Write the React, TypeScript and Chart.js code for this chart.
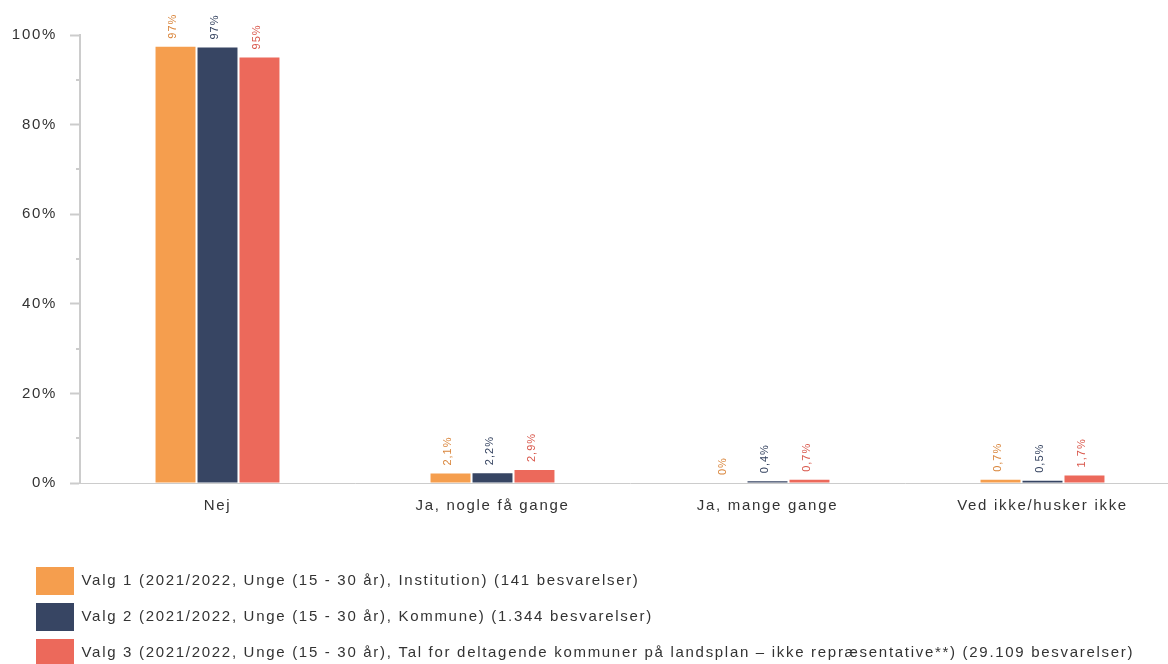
import React, { useEffect, useRef } from "react";
import { Chart, registerables } from "chart.js";

Chart.register(...registerables);

const CATEGORIES = ["Nej", "Ja, nogle få gange", "Ja, mange gange", "Ved ikke/husker ikke"];
const SERIES_NAMES = [
  "Valg 1 (2021/2022, Unge (15 - 30 år), Institution) (141 besvarelser)",
  "Valg 2 (2021/2022, Unge (15 - 30 år), Kommune) (1.344 besvarelser)",
  "Valg 3 (2021/2022, Unge (15 - 30 år), Tal for deltagende kommuner på landsplan – ikke repræsentative**) (29.109 besvarelser)",
];
const VALG1 = [97.4, 2.1, 0, 0.7];
const VALG2 = [97.2, 2.2, 0.4, 0.5];
const VALG3 = [95.0, 2.9, 0.7, 1.7];
const LABELS1 = ["97%", "2,1%", "0%", "0,7%"];
const LABELS2 = ["97%", "2,2%", "0,4%", "0,5%"];
const LABELS3 = ["95%", "2,9%", "0,7%", "1,7%"];
const Y_TICKS_MAJOR_STEP = 20;

const BAR_COLORS = ["#F59E4E", "#374563", "#EC695B"];
const LABEL_COLORS = ["#D9853B", "#34425F", "#D9574B"];
const FONT = '"Liberation Sans", Arial, sans-serif';
const SPACING = "1.7px";

export default function App() {
  const ref = useRef<HTMLCanvasElement | null>(null);

  useEffect(() => {
    if (!ref.current) return;
    const allLabels = [LABELS1, LABELS2, LABELS3];

    const spacingPlugin = {
      id: "spacing",
      beforeUpdate(chart: any) {
        chart.ctx.letterSpacing = SPACING;
      },
      afterLayout(chart: any) {
        const lg = chart.legend;
        if (lg) {
          lg.left = 28;
        }
      },
      beforeDraw(chart: any) {
        chart.ctx.letterSpacing = SPACING;
      },
    };

    const minorTicks = {
      id: "minorTicks",
      afterDraw(chart: any) {
        const y = chart.scales.y;
        const ctx = chart.ctx;
        const left = chart.chartArea.left;
        ctx.save();
        ctx.strokeStyle = "#cccccc";
        ctx.lineWidth = 2;
        for (const t of y.ticks) {
          if (t.value % Y_TICKS_MAJOR_STEP !== 0) {
            const py = Math.round(y.getPixelForValue(t.value));
            ctx.beginPath();
            ctx.moveTo(left - 4, py);
            ctx.lineTo(left, py);
            ctx.stroke();
          }
        }
        ctx.restore();
      },
    };

    const valueLabels = {
      id: "valueLabels",
      afterDatasetsDraw(chart: any) {
        const ctx = chart.ctx;
        chart.data.datasets.forEach((_ds: any, di: number) => {
          const meta = chart.getDatasetMeta(di);
          meta.data.forEach((bar: any, i: number) => {
            ctx.save();
            ctx.translate(bar.x - 3, bar.y - 8);
            ctx.rotate(-Math.PI / 2);
            ctx.font = `11px ${FONT}`;
            ctx.letterSpacing = "1px";
            ctx.fillStyle = LABEL_COLORS[di];
            ctx.textAlign = "left";
            ctx.textBaseline = "middle";
            ctx.fillText(allLabels[di][i], 0, 0);
            ctx.restore();
          });
        });
      },
    };

    const chart = new Chart(ref.current, {
      type: "bar",
      data: {
        labels: CATEGORIES,
        datasets: [VALG1, VALG2, VALG3].map((d, i) => ({
          label: SERIES_NAMES[i],
          data: d,
          backgroundColor: BAR_COLORS[i],
          borderWidth: 0,
          categoryPercentage: 0.458,
          barPercentage: 0.952,
        })),
      },
      options: {
        responsive: false,
        animation: false,
        events: [],
        layout: { padding: { top: 35, left: 0, right: 4, bottom: 5 } },
        plugins: {
          tooltip: { enabled: false },
          legend: {
            position: "bottom",
            align: "start",
            labels: {
              boxWidth: 38,
              boxHeight: 28,
              padding: 8,
              color: "#333333",
              font: { family: FONT, size: 15 },
            },
          },
        },
        scales: {
          x: {
            grid: { display: false },
            border: { display: true, color: "#cccccc", width: 1 },
            ticks: {
              color: "#333333",
              font: { family: FONT, size: 15 },
              padding: 6,
              autoSkip: false,
              maxRotation: 0,
            },
            afterFit(scale: any) {
              scale.height = 76;
            },
          },
          y: {
            min: 0,
            max: 100,
            grid: {
              display: true,
              drawOnChartArea: false,
              drawTicks: true,
              tickLength: 10,
              tickWidth: 2,
              tickColor: (c: any) =>
                c.tick && c.tick.value % Y_TICKS_MAJOR_STEP === 0 ? "#cccccc" : "rgba(0,0,0,0)",
            },
            border: { display: true, color: "#cccccc", width: 2 },
            ticks: {
              stepSize: 10,
              autoSkip: false,
              color: "#333333",
              font: { family: FONT, size: 15 },
              padding: 13,
              callback: (v: any) => (Number(v) % Y_TICKS_MAJOR_STEP === 0 ? `${v}%` : ""),
            },
            afterFit(scale: any) {
              scale.width = 80;
            },
          },
        },
      },
      plugins: [spacingPlugin, minorTicks, valueLabels],
    });

    return () => chart.destroy();
  }, []);

  return (
    <div
      style={{
        position: "fixed",
        left: 0,
        top: 0,
        width: 1168,
        height: 664,
        overflow: "hidden",
        background: "#ffffff",
      }}
    >
      <canvas ref={ref} width={1184} height={682} style={{ display: "block" }} />
    </div>
  );
}
